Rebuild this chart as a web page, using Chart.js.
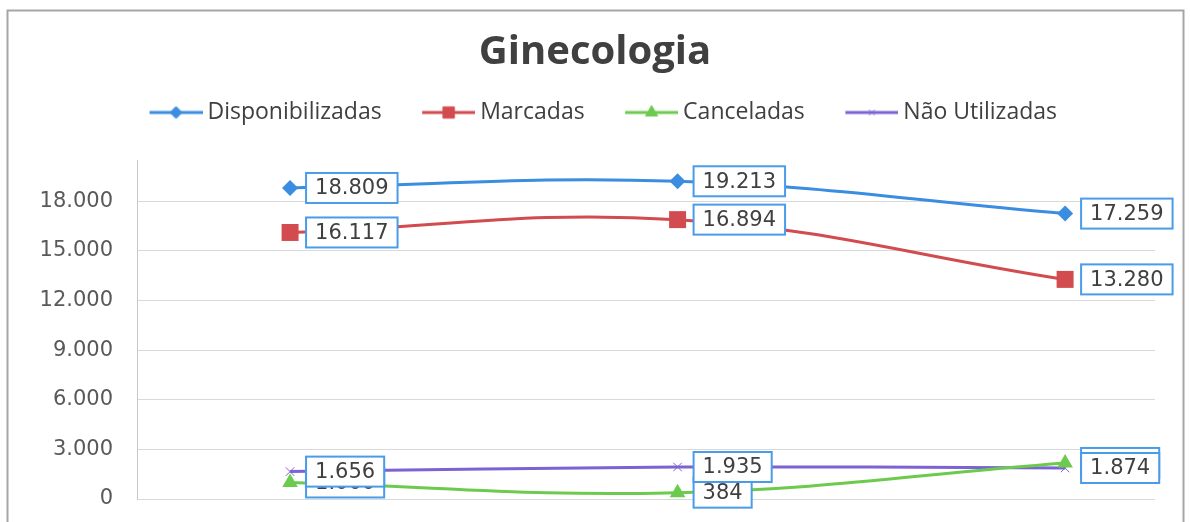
<!DOCTYPE html>
<html>
<head>
<meta charset="utf-8">
<script src="https://cdn.jsdelivr.net/npm/chart.js@4.4.1/dist/chart.umd.min.js"></script>
<style>
    html, body { margin: 0; padding: 0; background: #fff; }
    #wrap { width: 1190px; height: 522px; }
</style>
</head>
<body>
<div id="wrap"><canvas id="ginecoChart"></canvas></div>
<script>
// valores (3 períodos, sem rótulo visível no eixo x)
const periodos = ['Período 1', 'Período 2', 'Período 3'];
const disponibilizadas = [18809, 19213, 17259];
const marcadas = [16117, 16894, 13280];
const canceladas = [1000, 384, 2180];
const naoUtilizadas = [1656, 1935, 1874];
const yTicks = [0, 3000, 6000, 9000, 12000, 15000, 18000];

const fmt = v => v.toLocaleString('pt-BR');

const series = [
    { label: 'Disponibilizadas', values: disponibilizadas, color: '#3a8de0', style: 'rectRot', r: 8, legendR: 6 },
    { label: 'Marcadas', values: marcadas, color: '#d24b4e', style: 'rect', r: 12, legendR: 8 },
    { label: 'Canceladas', values: canceladas, color: '#6ccb4e', style: 'triangle', r: 9, legendR: 7 },
    { label: 'Não Utilizadas', values: naoUtilizadas, color: '#7d62d3', style: 'crossRot', r: 6, legendR: 4 }
];

// ícone da legenda: linha + marcador, como no Excel
function makeIcon(s) {
    const c = document.createElement('canvas');
    c.width = 76;
    c.height = 22;
    const g = c.getContext('2d');
    g.strokeStyle = s.color;
    g.fillStyle = s.color;
    g.lineWidth = 3;
    g.beginPath();
    g.moveTo(23, 11);
    g.lineTo(76, 11);
    g.stroke();
    g.lineWidth = 1;
    Chart.helpers.drawPoint(g, { pointStyle: s.style, radius: s.legendR, rotation: 0, borderWidth: 1 }, 49.5, 11);
    return c;
}
const icons = series.map(makeIcon);

const datasets = series.map(s => ({
    label: s.label,
    data: s.values.map((v, i) => ({ x: i, y: v })),
    borderColor: s.color,
    backgroundColor: s.color,
    borderWidth: 3,
    pointStyle: s.style,
    pointRadius: s.r,
    pointBorderWidth: s.style === 'crossRot' ? 1 : 0,
    pointBackgroundColor: s.color,
    pointBorderColor: s.color,
    tension: 0.4
}));

const frame = {
    id: 'frame',
    beforeDraw(chart) {
        const ctx = chart.ctx;
        ctx.save();
        ctx.fillStyle = '#fff';
        ctx.fillRect(0, 0, chart.width, chart.height);
        ctx.strokeStyle = '#a6a6a6';
        ctx.lineWidth = 2;
        ctx.strokeRect(7.5, 10.5, chart.width - 14, chart.height + 20);
        ctx.restore();
    }
};

const boxLabels = {
    id: 'boxLabels',
    afterDatasetsDraw(chart) {
        const ctx = chart.ctx;
        ctx.save();
        ctx.font = '21px "DejaVu Sans"';
        ctx.textBaseline = 'middle';
        chart.data.datasets.forEach((ds, di) => {
            const meta = chart.getDatasetMeta(di);
            meta.data.forEach((pt, i) => {
                const txt = fmt(ds.data[i].y);
                const w = ctx.measureText(txt).width + 18;
                const h = 30;
                const x = pt.x + 16;
                const y = pt.y - h / 2;
                ctx.fillStyle = '#fff';
                ctx.fillRect(x, y, w, h);
                ctx.strokeStyle = '#4a9be8';
                ctx.lineWidth = 2;
                ctx.strokeRect(x, y, w, h);
                ctx.fillStyle = '#404040';
                ctx.fillText(txt, x + 9, pt.y + 1);
            });
        });
        ctx.restore();
    }
};

const ctx = document.getElementById('ginecoChart').getContext('2d');
new Chart(ctx, {
    type: 'line',
    data: { labels: periodos, datasets: datasets },
    options: {
        responsive: true,
        maintainAspectRatio: false,
        animation: false,
        layout: { padding: 0 },
        plugins: {
            title: {
                display: true,
                text: 'Ginecologia',
                color: '#404040',
                font: { family: '"Open Sans"', size: 40, weight: 'bold' },
                padding: { top: 29, bottom: 0 }
            },
            legend: {
                display: true,
                position: 'top',
                labels: {
                    usePointStyle: true,
                    pointStyleWidth: 63,
                    padding: 24,
                    color: '#404040',
                    font: { family: '"Open Sans"', size: 23 },
                    generateLabels(chart) {
                        const items = Chart.defaults.plugins.legend.labels.generateLabels(chart);
                        items.forEach((it, i) => { it.pointStyle = icons[i]; });
                        return items;
                    }
                }
            },
            tooltip: {
                callbacks: {
                    title: items => periodos[items[0].dataIndex],
                    label: c => c.dataset.label + ': ' + fmt(c.parsed.y)
                }
            }
        },
        scales: {
            x: {
                type: 'linear',
                min: -0.395,
                max: 2.232,
                grid: { display: false },
                border: { display: false },
                ticks: { display: false },
                afterFit: s => { s.height = 23; }
            },
            xTop: {
                type: 'linear',
                position: 'top',
                grid: { display: false },
                border: { display: false },
                ticks: { display: false },
                afterFit: s => { s.height = 26; }
            },
            y: {
                min: 0,
                max: 20500,
                grid: { color: '#d9d9d9', lineWidth: 1, drawTicks: true, tickLength: 24, tickColor: 'rgba(0,0,0,0)' },
                border: { display: true, color: '#c8c8c8' },
                afterBuildTicks: s => { s.ticks = yTicks.map(v => ({ value: v })); },
                afterFit: s => { s.width = 137; },
                ticks: {
                    padding: 0,
                    color: '#595959',
                    font: { family: '"DejaVu Sans"', size: 21 },
                    callback: v => fmt(v)
                }
            },
            yRight: {
                type: 'linear',
                position: 'right',
                grid: { display: false },
                border: { display: false },
                ticks: { display: false },
                afterFit: s => { s.width = 35; }
            }
        }
    },
    plugins: [frame, boxLabels]
});
</script>
</body>
</html>
